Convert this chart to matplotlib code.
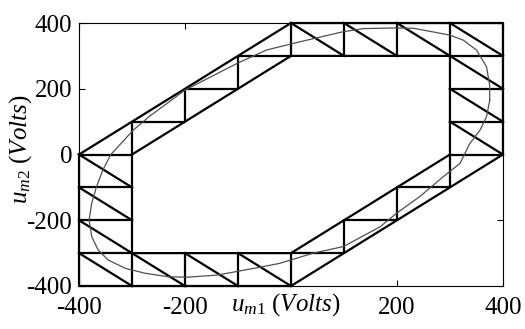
import matplotlib
matplotlib.use('Agg')
import matplotlib.pyplot as plt

plt.rcParams['font.family'] = 'Liberation Serif'
plt.rcParams['mathtext.fontset'] = 'custom'
plt.rcParams['mathtext.it'] = 'Liberation Serif:italic'
plt.rcParams['mathtext.rm'] = 'Liberation Serif'

# trajectory of the voltage vector
um1 = [375, 375, 369, 350, 325, 300, 268, 231, 199, 136, 97, 17, -46, -102,
       -200, -268, -297, -340, -355, -367, -376, -381, -376, -364, -345, -313,
       -276, -232, -194, -140, -59, -21, 42, 99, 168, 199, 243, 287, 319, 337,
       357, 369, 375]
um2 = [165, 210, 267, 318, 348, 363, 373, 384, 385, 383, 373, 343, 318, 277,
       196, 115, 75, 0, -47, -98, -148, -199, -250, -290, -321, -346, -361,
       -372, -373, -367, -343, -331, -300, -280, -220, -179, -128, -68, -27, 32,
       75, 115, 165]

# outer and inner hexagon of the switching vectors
outer_x = [-400, 0, 400, 400, 0, -400, -400]
outer_y = [0, 400, 400, 0, -400, -400, 0]
inner_x = [-300, 0, 300, 300, 0, -300, -300]
inner_y = [0, 300, 300, 0, -300, -300, 0]

# staircases in the two diagonal bands
stair1_x = [-400, -300, -300, -200, -200, -100, -100, 0, 0]
stair1_y = [0, 0, 100, 100, 200, 200, 300, 300, 400]
stair2_x = [400, 300, 300, 200, 200, 100, 100, 0, 0]
stair2_y = [0, 0, -100, -100, -200, -200, -300, -300, -400]

# remaining edges (x1, x2, y1, y2)
edges = [
    # top band
    (100, 100, 300, 400), (200, 200, 300, 400), (300, 300, 300, 400),
    (0, 100, 400, 300), (100, 200, 400, 300), (200, 300, 400, 300), (300, 400, 400, 300),
    # right band
    (300, 400, 300, 300), (300, 400, 200, 200), (300, 400, 100, 100),
    (300, 400, 300, 200), (300, 400, 200, 100), (300, 400, 100, 0),
    # bottom band
    (-100, -100, -300, -400), (-200, -200, -300, -400), (-300, -300, -300, -400),
    (0, -100, -400, -300), (-100, -200, -400, -300), (-200, -300, -400, -300), (-300, -400, -400, -300),
    # left band
    (-400, -300, -300, -300), (-400, -300, -200, -200), (-400, -300, -100, -100),
    (-400, -300, 0, -100), (-400, -300, -100, -200), (-400, -300, -200, -300),
]

ticks = [-400, -200, 0, 200, 400]
xticklabels = ['-400', '-200', '', '200', '400']
yticklabels = ['-400', '-200', '0', '200', '400']

fig = plt.figure(figsize=(5.25, 3.29), dpi=100)
ax = fig.add_axes([0.1505, 0.1307, 0.8075, 0.7993])

lw = 1.6
ax.plot(outer_x, outer_y, color='black', lw=lw, clip_on=False)
ax.plot(inner_x, inner_y, color='black', lw=lw, clip_on=False)
ax.plot(stair1_x, stair1_y, color='black', lw=lw, clip_on=False)
ax.plot(stair2_x, stair2_y, color='black', lw=lw, clip_on=False)
for x1, x2, y1, y2 in edges:
    ax.plot([x1, x2], [y1, y2], color='black', lw=lw, clip_on=False)

ax.plot(um1, um2, color='#505050', lw=0.9)

ax.set_xlim(-400, 400)
ax.set_ylim(-400, 400)
ax.set_xticks(ticks)
ax.set_xticklabels(xticklabels)
ax.set_yticks(ticks)
ax.set_yticklabels(yticklabels)
ax.tick_params(direction='in', top=True, right=True, length=4, width=0.8,
               labelsize=18, pad=5)
ax.tick_params(axis='x', pad=8)
for s in ax.spines.values():
    s.set_linewidth(0.8)

ax.set_xlabel(r'$u_{m1}\ (Volts)$', fontsize=18)
ax.xaxis.set_label_coords(0.488, -0.02)
ax.set_ylabel(r'$u_{m2}\ (Volts)$', fontsize=18)
ax.yaxis.set_label_coords(-0.105, 0.52)

fig.savefig('out.png', dpi=100)
